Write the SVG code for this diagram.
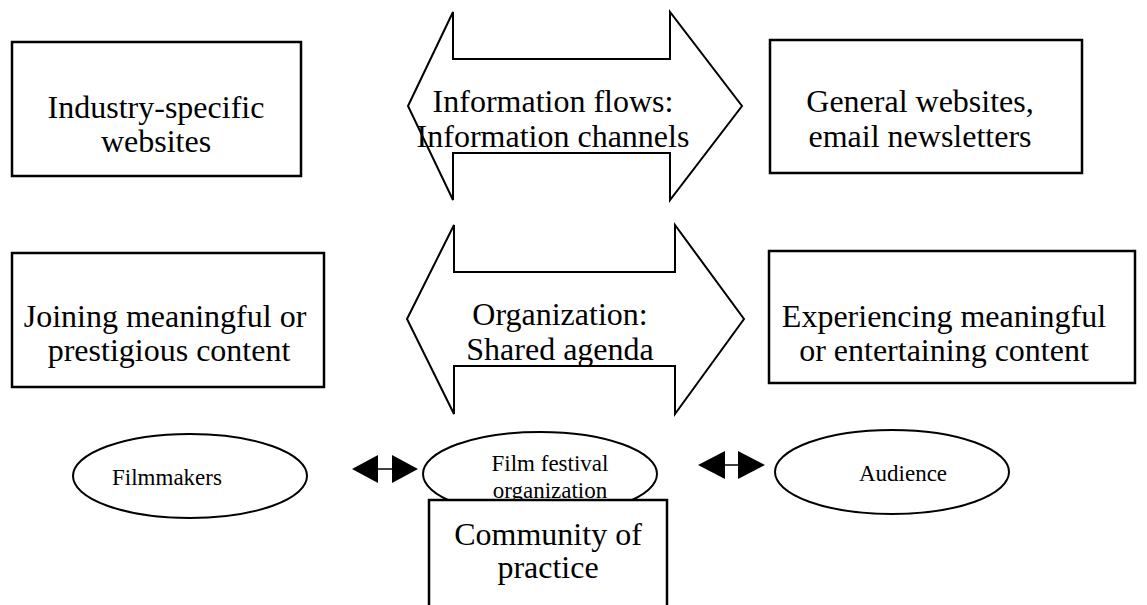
<svg xmlns="http://www.w3.org/2000/svg" width="1147" height="605" viewBox="0 0 1147 605">
  <style>
    .box { fill: #fff; stroke: #000; stroke-width: 2.5; }
    .flow { fill: #fff; stroke: #000; stroke-width: 2; stroke-linejoin: miter; }
    .oval { fill: #fff; stroke: #000; stroke-width: 2; }
    .big { font-family: "Liberation Serif", "Times New Roman", serif; font-size: 32px; fill: #000; text-anchor: middle; }
    .small { font-family: "Liberation Serif", "Times New Roman", serif; font-size: 23px; fill: #000; text-anchor: middle; }
    .link { stroke: #000; stroke-width: 1.5; }
    .head { fill: #000; }
  </style>
  <rect width="1147" height="605" fill="#fff"/>

  <!-- top row -->
  <g id="industry-sites">
    <rect class="box" x="12" y="42" width="289" height="134"/>
    <text class="big" x="156" y="118">Industry-specific</text>
    <text class="big" x="156" y="152">websites</text>
  </g>

  <g id="information-flows">
    <polygon class="flow" points="408,106 453,12 453,59 670,59 670,12 742,106 670,200 670,153 453,153 453,200"/>
    <text class="big" x="553" y="112">Information flows:</text>
    <text class="big" x="553" y="147">Information channels</text>
  </g>

  <g id="general-sites">
    <rect class="box" x="770" y="40" width="312" height="133"/>
    <text class="big" x="920" y="112">General websites,</text>
    <text class="big" x="920" y="147">email newsletters</text>
  </g>

  <!-- middle row -->
  <g id="joining-content">
    <rect class="box" x="12" y="253" width="312" height="134"/>
    <text class="big" x="165" y="327">Joining meaningful or</text>
    <text class="big" x="169" y="361">prestigious content</text>
  </g>

  <g id="organization">
    <polygon class="flow" points="407,319 454,225 454,272 675,272 675,225 744,319 675,414 675,366 454,366 454,414"/>
    <text class="big" x="560" y="325">Organization:</text>
    <text class="big" x="560" y="360">Shared agenda</text>
  </g>

  <g id="experiencing-content">
    <rect class="box" x="769" y="251" width="366" height="132"/>
    <text class="big" x="944" y="327">Experiencing meaningful</text>
    <text class="big" x="944" y="361">or entertaining content</text>
  </g>

  <!-- bottom row -->
  <g id="filmmakers">
    <ellipse class="oval" cx="190" cy="476" rx="117" ry="42"/>
    <text class="small" x="167" y="485">Filmmakers</text>
  </g>

  <g id="festival-organization">
    <ellipse class="oval" cx="540" cy="474" rx="117" ry="42"/>
    <text class="small" x="550" y="471">Film festival</text>
    <text class="small" x="550" y="498">organization</text>
  </g>

  <g id="audience">
    <ellipse class="oval" cx="892" cy="472" rx="117" ry="42"/>
    <text class="small" x="903" y="481">Audience</text>
  </g>

  <g id="community-of-practice">
    <rect class="box" x="429" y="500" width="238" height="130"/>
    <text class="big" x="548" y="545">Community of</text>
    <text class="big" x="548" y="578">practice</text>
  </g>

  <!-- two-way links between the ovals -->
  <g id="connectors">
    <line class="link" x1="378" y1="469" x2="392" y2="469"/>
    <polygon class="head" points="352,469 378,455 378,483"/>
    <polygon class="head" points="418,469 392,455 392,483"/>
    <line class="link" x1="725" y1="465" x2="738" y2="465"/>
    <polygon class="head" points="698,465 725,451 725,479"/>
    <polygon class="head" points="765,465 738,451 738,479"/>
  </g>
</svg>
